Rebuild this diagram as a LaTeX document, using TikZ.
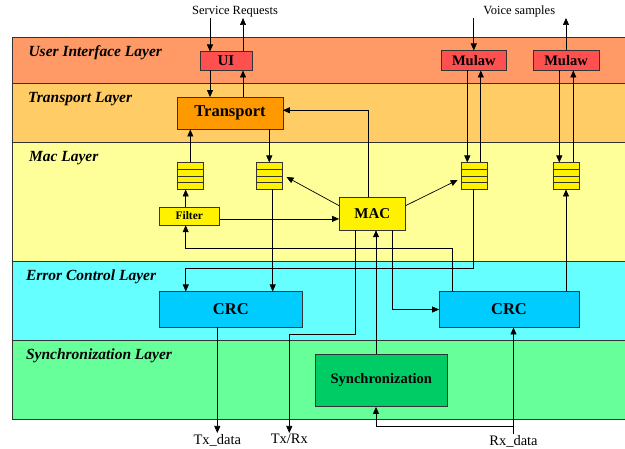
\documentclass[tikz,border=0pt]{standalone}
\usepackage{fontspec}
\setmainfont{Liberation Serif}
\usetikzlibrary{calc,positioning,arrows.meta}
\definecolor{ui_band}{RGB}{255,153,102}
\definecolor{tp_band}{RGB}{255,204,102}
\definecolor{mac_band}{RGB}{255,255,153}
\definecolor{err_band}{RGB}{102,255,255}
\definecolor{sync_band}{RGB}{102,255,153}
\definecolor{ui_box}{RGB}{255,80,80}
\definecolor{tp_box}{RGB}{255,153,0}
\definecolor{crc_box}{RGB}{0,204,255}
\definecolor{sync_box}{RGB}{0,204,102}

\begin{document}
\begin{tikzpicture}[
    x=1pt, y=-1pt,
    band/.style={draw=black!80, line width=1.2pt},
    layer/.style={anchor=base west, font=\fontsize{15.5}{17}\selectfont\bfseries\itshape},
    box/.style={rectangle, draw=black!80, inner sep=0, align=center, font=\bfseries},
    queue/.style={draw=black!80, fill=yellow, minimum width=26, minimum height=26.6, inner sep=0,
        path picture={\foreach \k in {1,2,3}{\draw ($(path picture bounding box.north west)!\k/4!(path picture bounding box.south west)$) -- ($(path picture bounding box.north east)!\k/4!(path picture bounding box.south east)$);}}},
    io/.style={inner sep=1, font=\fontsize{12.5}{14}\selectfont},
    iob/.style={inner sep=1, font=\fontsize{14.5}{16}\selectfont},
    arr/.style={-{Triangle[length=7,width=6]}, line width=0.7pt}
]
\useasboundingbox (0,0) rectangle (625,449);

% layers
\draw[band, fill=ui_band] (12.5,37.3) rectangle (630,83.3);
\draw[band, fill=tp_band] (12.5,83.3) rectangle (630,142.7);
\draw[band, fill=mac_band] (12.5,142.7) rectangle (630,261.7);
\draw[band, fill=err_band] (12.5,261.7) rectangle (630,340.7);
\draw[band, fill=sync_band] (12.5,340.7) rectangle (630,419.3);

\node[layer] (uil) at (25,57) {User Interface Layer};
\node[layer] (tpl) at (24.5,102.5) {Transport Layer};
\node[layer] (macl) at (25.5,162) {Mac Layer};
\node[layer] (errl) at (22.5,280.5) {Error Control Layer};
\node[layer] (syncl) at (22.5,359.5) {Synchronization Layer};

% blocks
\node[box, fill=ui_box, minimum width=52.6, minimum height=18.6, font=\fontsize{15}{16}\selectfont\bfseries] (ui) at (226,61) {UI};
\node[box, fill=ui_box, minimum width=65.7, minimum height=19.6, font=\fontsize{14.5}{16}\selectfont\bfseries] (mulaw1) at (473.8,60.5) {Mulaw};
\node[box, fill=ui_box, minimum width=65.4, minimum height=19.6, font=\fontsize{14.5}{16}\selectfont\bfseries] (mulaw2) at (566,60.5) {Mulaw};
\node[box, fill=tp_box, minimum width=105.4, minimum height=32, font=\fontsize{16.5}{18}\selectfont\bfseries] (transport) at (230,113.3) {Transport};

\node[queue] (q1) at (190.3,176) {};
\node[queue] (q2) at (269.3,176) {};
\node[queue] (q3) at (473.8,176) {};
\node[queue] (q4) at (566,176) {};

\node[box, fill=yellow, minimum width=60, minimum height=18.3, font=\fontsize{11.5}{13}\selectfont\bfseries] (filter) at (189.3,215.9) {Filter};
\node[box, fill=yellow, minimum width=66, minimum height=32.7, font=\fontsize{15}{16}\selectfont\bfseries] (mac) at (372.3,213.7) {MAC};

\node[box, fill=crc_box, minimum width=143, minimum height=35.6, font=\fontsize{16.5}{18}\selectfont\bfseries] (crc1) at (230.8,309.5) {CRC};
\node[box, fill=crc_box, minimum width=139.4, minimum height=35.6, font=\fontsize{16.5}{18}\selectfont\bfseries] (crc2) at (509,309.5) {CRC};
\node[box, fill=sync_box, minimum width=131.3, minimum height=52.4, font=\fontsize{14.5}{16}\selectfont\bfseries] (sync) at (381.3,380.5) {Synchronization};

% external signals
\node[io, anchor=south] (svc) at (235,18) {Service Requests};
\node[io, anchor=south] (voice) at (519.3,18) {Voice samples};
\node[iob, anchor=north] (txdata) at (217.3,433) {Tx\_data};
\node[iob, anchor=north] (txrx) at (289.3,433) {Tx/Rx};
\node[iob, anchor=north] (rxdata) at (513.5,434) {Rx\_data};

% user interface
\draw[arr] ([xshift=-16]ui.north |- svc.south) -- ([xshift=-16]ui.north);
\draw[arr] ([xshift=17]ui.north) -- ([xshift=17]ui.north |- svc.south);
\draw[arr] ([xshift=-16]ui.south) -- ([xshift=-16]ui.south |- transport.north);
\draw[arr] ([xshift=17]ui.south |- transport.north) -- ([xshift=17]ui.south);
\draw[arr] (mulaw1.north |- voice.south) -- (mulaw1.north);
\draw[arr] (mulaw2.north) -- (mulaw2.north |- voice.south);
\draw[arr] ([xshift=-6.5]mulaw1.south) -- ([xshift=-6.5]mulaw1.south |- q3.north);
\draw[arr] ([xshift=7]mulaw1.south |- q3.north) -- ([xshift=7]mulaw1.south);
\draw[arr] ([xshift=-6.7]mulaw2.south) -- ([xshift=-6.7]mulaw2.south |- q4.north);
\draw[arr] ([xshift=7.3]mulaw2.south |- q4.north) -- ([xshift=7.3]mulaw2.south);

% transport and mac
\draw[arr] (q2.north |- transport.south) -- (q2.north);
\draw[arr] (q1.north) -- (q1.north |- transport.south);
\draw[arr] ([xshift=-3.6]filter.north) -- ([xshift=-3.6]filter.north |- q1.south);
\draw[arr] ($(filter.east)+(0,3)$) -- ($(filter.east -| mac.west)+(0,3)$);
\draw[arr] ($(mac.west)+(0,-8)$) -- ($(q2.east)+(4,1)$);
\draw[arr] ($(mac.east)+(0,-8)$) -- ($(q3.west)+(-3,4)$);
\draw[arr] ([xshift=-3.6]mac.north) |- ($(transport.east)+(0,-3)$);

% error control
\draw[arr] ([xshift=3.4]q2.south) -- ([xshift=3.4]q2.south |- crc1.north);
\draw[arr] (q3.south) -- ++(0,79) -| ([xshift=-45]crc1.north);
\draw[arr] ([xshift=-56.3]crc2.north) -- ++(0,-42.7) -| ([xshift=-3.6]filter.south);
\draw[arr] (q4.south |- crc2.north) -- (q4.south);
\draw[arr] ([xshift=20]mac.south) |- (crc2.west);

% synchronization
\draw[arr] ([xshift=-5.3]sync.north) -- ([xshift=-5.3]sync.north |- mac.south);
\draw[arr] ([xshift=-17]mac.south) -- ++(0,104.3) -| (txrx.north);
\draw[arr] (crc1.south -| txdata.north) -- (txdata.north);
\draw[arr] (rxdata.north) -- (rxdata.north |- crc2.south);
\draw[arr] ($(rxdata.north)+(0,-7.3)$) -| ([xshift=-5.3]sync.south);
\end{tikzpicture}
\end{document}
